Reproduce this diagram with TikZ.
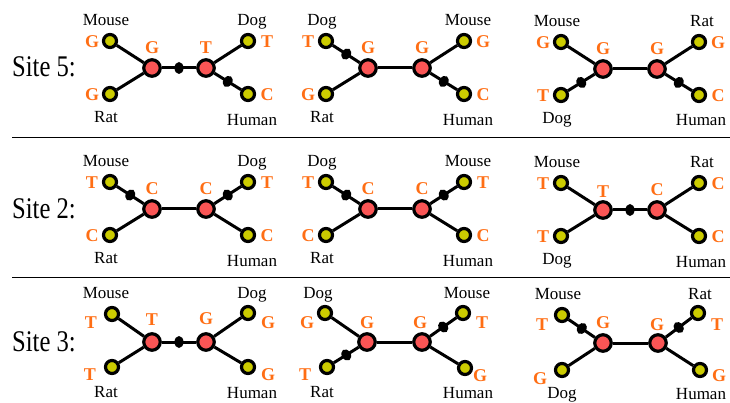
\documentclass[tikz,border=0pt]{standalone}
\usepackage{fontspec}
\setmainfont{Liberation Serif}
\usetikzlibrary{shapes.geometric}
\definecolor{leafc}{RGB}{204,204,0}
\definecolor{ancc}{RGB}{250,85,85}
\definecolor{nucc}{RGB}{255,110,20}
\tikzset{
  leaf/.style={draw, circle, line width=3.2pt, fill=leafc, minimum size=13pt, inner sep=0pt},
  anc/.style={draw, circle, line width=3.2pt, fill=ancc, minimum size=16.5pt, inner sep=0pt},
  branch/.style={draw, line width=3pt},
  mut/.style={ellipse, fill=black, sloped, minimum width=9pt, minimum height=12pt, inner sep=0pt},
  species/.style={font=\fontsize{17}{17}\selectfont, anchor=base, inner sep=0pt},
  nuc/.style={text=nucc, font=\bfseries\fontsize{18}{18}\selectfont, inner sep=0pt},
  site/.style={font=\fontsize{30}{30}\selectfont, inner sep=0pt}
}
\begin{document}
\begin{tikzpicture}[x=1pt,y=-1pt]
\useasboundingbox (0,0) rectangle (730,403);

\node[site] (s5) at (44,67) {\scalebox{0.82}[1]{Site 5:}};
\node[site] (s2) at (44,209) {\scalebox{0.82}[1]{Site 2:}};
\node[site] (s3) at (44,342) {\scalebox{0.82}[1]{Site 3:}};

\draw[line width=0.8pt] (12,137) -- (730,137);
\draw[line width=0.8pt] (12,277) -- (730,277);

% site 5
\begin{scope}[shift={(179,68)}]
\node[leaf] (a1) at (-69,-27) {};
\node[leaf] (a2) at (-69,26) {};
\node[anc] (a3) at (-27,0) {};
\node[anc] (a4) at (27,0) {};
\node[leaf] (a5) at (69,-27) {};
\node[leaf] (a6) at (69,26) {};
\path[branch] (a1) -- (a3);
\path[branch] (a2) -- (a3);
\path[branch] (a3) -- node[mut] {} (a4);
\path[branch] (a4) -- (a5);
\path[branch] (a4) -- node[mut] {} (a6);
\node[species] (a1n) at (-73,-42) {Mouse};
\node[species] (a2n) at (-73,55) {Rat};
\node[species] (a5n) at (73,-42) {Dog};
\node[species] (a6n) at (73,58) {Human};
\node[nuc] (a1l) at (-87,-26) {G};
\node[nuc] (a2l) at (-87,27) {G};
\node[nuc] (a3l) at (-27,-20) {G};
\node[nuc] (a4l) at (27,-20) {T};
\node[nuc] (a5l) at (88,-26) {T};
\node[nuc] (a6l) at (88,27) {C};
\end{scope}

\begin{scope}[shift={(395,68)}]
\node[leaf] (b1) at (-69,-27) {};
\node[leaf] (b2) at (-69,26) {};
\node[anc] (b3) at (-27,0) {};
\node[anc] (b4) at (27,0) {};
\node[leaf] (b5) at (69,-27) {};
\node[leaf] (b6) at (69,26) {};
\path[branch] (b1) -- node[mut] {} (b3);
\path[branch] (b2) -- (b3);
\path[branch] (b3) -- (b4);
\path[branch] (b4) -- (b5);
\path[branch] (b4) -- node[mut] {} (b6);
\node[species] (b1n) at (-73,-42) {Dog};
\node[species] (b2n) at (-73,55) {Rat};
\node[species] (b5n) at (73,-42) {Mouse};
\node[species] (b6n) at (73,58) {Human};
\node[nuc] (b1l) at (-87,-26) {T};
\node[nuc] (b2l) at (-87,27) {G};
\node[nuc] (b3l) at (-27,-20) {G};
\node[nuc] (b4l) at (27,-20) {G};
\node[nuc] (b5l) at (88,-26) {G};
\node[nuc] (b6l) at (88,27) {C};
\end{scope}

\begin{scope}[shift={(630,69)}]
\node[leaf] (c1) at (-69,-27) {};
\node[leaf] (c2) at (-69,26) {};
\node[anc] (c3) at (-27,0) {};
\node[anc] (c4) at (27,0) {};
\node[leaf] (c5) at (69,-27) {};
\node[leaf] (c6) at (69,26) {};
\path[branch] (c1) -- (c3);
\path[branch] (c2) -- node[mut] {} (c3);
\path[branch] (c3) -- (c4);
\path[branch] (c4) -- (c5);
\path[branch] (c4) -- node[mut] {} (c6);
\node[species] (c1n) at (-73,-42) {Mouse};
\node[species] (c2n) at (-73,55) {Dog};
\node[species] (c5n) at (72,-42) {Rat};
\node[species] (c6n) at (71,57) {Human};
\node[nuc] (c1l) at (-87,-26) {G};
\node[nuc] (c2l) at (-87,27) {T};
\node[nuc] (c3l) at (-27,-20) {G};
\node[nuc] (c4l) at (27,-20) {G};
\node[nuc] (c5l) at (88,-26) {G};
\node[nuc] (c6l) at (88,27) {C};
\end{scope}

% site 2
\begin{scope}[shift={(179,209)}]
\node[leaf] (d1) at (-69,-27) {};
\node[leaf] (d2) at (-69,26) {};
\node[anc] (d3) at (-27,0) {};
\node[anc] (d4) at (27,0) {};
\node[leaf] (d5) at (69,-27) {};
\node[leaf] (d6) at (69,26) {};
\path[branch] (d1) -- node[mut] {} (d3);
\path[branch] (d2) -- (d3);
\path[branch] (d3) -- (d4);
\path[branch] (d4) -- node[mut] {} (d5);
\path[branch] (d4) -- (d6);
\node[species] (d1n) at (-73,-42) {Mouse};
\node[species] (d2n) at (-73,54) {Rat};
\node[species] (d5n) at (73,-42) {Dog};
\node[species] (d6n) at (73,57) {Human};
\node[nuc] (d1l) at (-87,-26) {T};
\node[nuc] (d2l) at (-87,27) {C};
\node[nuc] (d3l) at (-27,-20) {C};
\node[nuc] (d4l) at (27,-20) {C};
\node[nuc] (d5l) at (88,-26) {T};
\node[nuc] (d6l) at (88,27) {C};
\end{scope}

\begin{scope}[shift={(395,209)}]
\node[leaf] (e1) at (-69,-27) {};
\node[leaf] (e2) at (-69,26) {};
\node[anc] (e3) at (-27,0) {};
\node[anc] (e4) at (27,0) {};
\node[leaf] (e5) at (69,-27) {};
\node[leaf] (e6) at (69,26) {};
\path[branch] (e1) -- node[mut] {} (e3);
\path[branch] (e2) -- (e3);
\path[branch] (e3) -- (e4);
\path[branch] (e4) -- node[mut] {} (e5);
\path[branch] (e4) -- (e6);
\node[species] (e1n) at (-73,-42) {Dog};
\node[species] (e2n) at (-73,54) {Rat};
\node[species] (e5n) at (73,-42) {Mouse};
\node[species] (e6n) at (73,57) {Human};
\node[nuc] (e1l) at (-87,-26) {T};
\node[nuc] (e2l) at (-87,27) {C};
\node[nuc] (e3l) at (-27,-20) {C};
\node[nuc] (e4l) at (27,-20) {C};
\node[nuc] (e5l) at (88,-26) {T};
\node[nuc] (e6l) at (88,27) {C};
\end{scope}

\begin{scope}[shift={(630,210)}]
\node[leaf] (f1) at (-69,-27) {};
\node[leaf] (f2) at (-69,26) {};
\node[anc] (f3) at (-27,0) {};
\node[anc] (f4) at (27,0) {};
\node[leaf] (f5) at (69,-27) {};
\node[leaf] (f6) at (69,26) {};
\path[branch] (f1) -- (f3);
\path[branch] (f2) -- (f3);
\path[branch] (f3) -- node[mut] {} (f4);
\path[branch] (f4) -- (f5);
\path[branch] (f4) -- (f6);
\node[species] (f1n) at (-73,-42) {Mouse};
\node[species] (f2n) at (-73,54) {Dog};
\node[species] (f5n) at (72,-42) {Rat};
\node[species] (f6n) at (71,57) {Human};
\node[nuc] (f1l) at (-87,-26) {T};
\node[nuc] (f2l) at (-87,27) {T};
\node[nuc] (f3l) at (-27,-18) {T};
\node[nuc] (f4l) at (27,-20) {C};
\node[nuc] (f5l) at (88,-26) {C};
\node[nuc] (f6l) at (88,27) {C};
\end{scope}

% site 3
\begin{scope}[shift={(179,342)}]
\node[leaf] (g1) at (-67,-28) {};
\node[leaf] (g2) at (-67,25) {};
\node[anc] (g3) at (-27,0) {};
\node[anc] (g4) at (27,0) {};
\node[leaf] (g5) at (69,-29) {};
\node[leaf] (g6) at (69,25) {};
\path[branch] (g1) -- (g3);
\path[branch] (g2) -- (g3);
\path[branch] (g3) -- node[mut] {} (g4);
\path[branch] (g4) -- (g5);
\path[branch] (g4) -- (g6);
\node[species] (g1n) at (-73,-44) {Mouse};
\node[species] (g2n) at (-73,55) {Rat};
\node[species] (g5n) at (73,-44) {Dog};
\node[species] (g6n) at (73,56) {Human};
\node[nuc] (g1l) at (-88,-19) {T};
\node[nuc] (g2l) at (-89,33) {T};
\node[nuc] (g3l) at (-27,-22) {T};
\node[nuc] (g4l) at (27,-23) {G};
\node[nuc] (g5l) at (89,-19) {G};
\node[nuc] (g6l) at (89,33) {G};
\end{scope}

\begin{scope}[shift={(395,342)}]
\node[leaf] (h1) at (-70,-29) {};
\node[leaf] (h2) at (-68,25) {};
\node[anc] (h3) at (-28,0) {};
\node[anc] (h4) at (27,0) {};
\node[leaf] (h5) at (68,-29) {};
\node[leaf] (h6) at (70,26) {};
\path[branch] (h1) -- (h3);
\path[branch] (h2) -- node[mut] {} (h3);
\path[branch] (h3) -- (h4);
\path[branch] (h4) -- node[mut] {} (h5);
\path[branch] (h4) -- (h6);
\node[species] (h1n) at (-77,-44) {Dog};
\node[species] (h2n) at (-73,55) {Rat};
\node[species] (h5n) at (72,-44) {Mouse};
\node[species] (h6n) at (73,56) {Human};
\node[nuc] (h1l) at (-88,-19) {G};
\node[nuc] (h2l) at (-90,33) {T};
\node[nuc] (h3l) at (-28,-19) {G};
\node[nuc] (h4l) at (25,-19) {G};
\node[nuc] (h5l) at (87,-19) {T};
\node[nuc] (h6l) at (85,34) {G};
\end{scope}

\begin{scope}[shift={(630,343)}]
\node[leaf] (i1) at (-68,-28) {};
\node[leaf] (i2) at (-68,27) {};
\node[anc] (i3) at (-27,0) {};
\node[anc] (i4) at (28,0) {};
\node[leaf] (i5) at (68,-30) {};
\node[leaf] (i6) at (70,27) {};
\path[branch] (i1) -- node[mut] {} (i3);
\path[branch] (i2) -- (i3);
\path[branch] (i3) -- (i4);
\path[branch] (i4) -- node[mut] {} (i5);
\path[branch] (i4) -- (i6);
\node[species] (i1n) at (-72,-44) {Mouse};
\node[species] (i2n) at (-68,55) {Dog};
\node[species] (i5n) at (70,-44) {Rat};
\node[species] (i6n) at (71,56) {Human};
\node[nuc] (i1l) at (-88,-18) {T};
\node[nuc] (i2l) at (-90,36) {G};
\node[nuc] (i3l) at (-27,-20) {G};
\node[nuc] (i4l) at (27,-18) {G};
\node[nuc] (i5l) at (87,-18) {T};
\node[nuc] (i6l) at (89,33) {G};
\end{scope}
\end{tikzpicture}
\end{document}
